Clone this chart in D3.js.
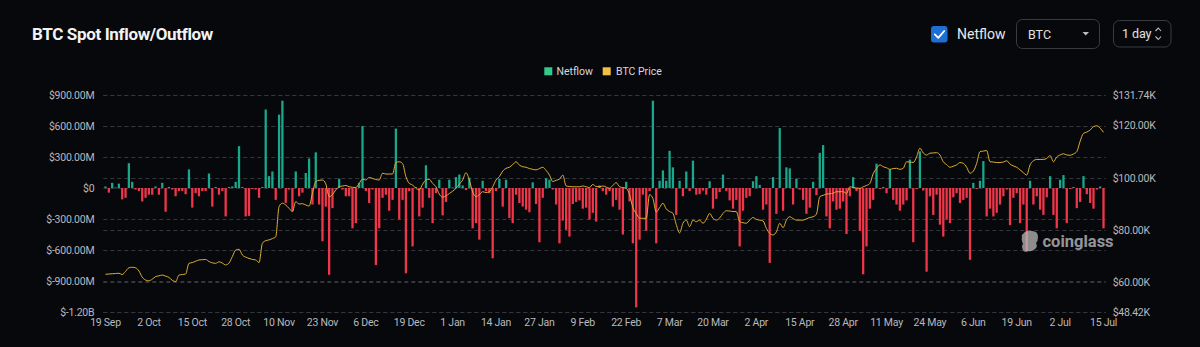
<!DOCTYPE html>
<html>
<head>
<meta charset="utf-8">
<script src="https://cdn.jsdelivr.net/npm/d3@7/dist/d3.min.js"></script>
<style>
  html, body { margin: 0; padding: 0; background: #07080c; }
  svg { display: block; }
  text { font-family: Roboto, "Noto Sans", sans-serif; }
</style>
</head>
<body>
<svg id="chart" width="1200" height="347"></svg>
<script>
// Daily BTC spot netflow (USD millions), 19 Sep 2024 – 15 Jul 2025
const startDate = "2024-09-19";
const dayCount = 300;

const netflow = [
   15,  -45,   50,    5,   42, -110,  -95,  240,   60,  -15,
  -30, -130,  -95,  -65,  -65,   15,  -65,   50, -230,   10,
  -15,  -80,  -30,  -30,  -60,  180, -190,  -50,  -80,  -30,
  -30,  140, -180,   10,  -65,  -30, -275,   10,   15,   60,
  405,   10, -275, -270,  -10,  -15,  -95,   10,  760,  115,
  160, -115,  710,  845, -145,  -15, -225,  160,  -80,  -45,
  145,  285, -160,  345, -160, -515, -180, -840, -195,  -10,
   90,  -15,  -80,  -80, -390, -340,   50,  600,  -30, -145,
  -15, -745, -390,  -95,  -65, -220, -115,  575, -305, -115,
 -825,  -30, -565,   10, -275, -190,  220,  -95, -340,  -50,
   80, -265, -135,   80,    5,  105,  130,   25,  -20,  100,
 -390, -340, -500,   70,  -30,  -50, -680,  -30,   90, -180,
   80, -290, -340,  -65, -145, -180, -210, -235,   55, -155,
 -525,  -95,   95,   80,  -15, -160, -535, -315, -405, -470,
 -155, -135, -120, -200, -190, -305, -240, -325,   25,  -30,
  -65,  -30, -180, -115, -210, -450,   60, -130, -535,-1155,
 -500,  -65, -415,  -30,  845, -535,   70,  170,   70,  360,
  200, -260,   70,  -80,  160,  -30,  265,  -65,  -60,  -25,
  -65,   65, -200, -105,  -40,  130,  -30, -120, -200, -115,
 -565, -220,  -95,  -80,   65,  115,   30, -210, -160, -725,
  105, -250,  580, -220,  200,  190, -160,   90,  -15, -115,
 -250, -190,   60,  -70,  340,  415, -275, -390, -130, -210,
 -200, -130, -445,  -80,  105,  -30, -415, -835, -565, -200,
 -115,  235,  -10,   10,  -50,  180, -115, -160, -220, -160,
 -120,  275, -525,  -10,  355,  -25, -810,  -80, -260,  -65,
 -355, -470, -305, -340,  -90,  -50, -145, -115,  -95, -695,
   50,  -10,   70,  260, -275, -200, -275, -240, -160,  -80,
  -15, -360,  -95,  -50, -340, -160, -615,   70, -160,  -80,
 -210, -260,  -90,  115, -260, -390,   80,  125, -340,  -10,
   10, -195, -135,  115,  -60, -145, -200,  -15,   15, -390
];

// Daily BTC price (USD thousands)
const btcPrice = [
  62.9, 63.0, 63.1, 63.2, 63.3, 62.8, 64.0, 65.4, 65.6, 65.4,
  64.2, 61.8, 60.7, 60.4, 61.0, 62.0, 62.3, 62.6, 62.2, 61.7,
  60.6, 60.1, 62.6, 62.8, 63.0, 67.1, 67.4, 67.9, 68.4, 68.5,
  68.6, 67.8, 67.3, 67.1, 67.7, 67.2, 66.5, 67.2, 69.7, 72.2,
  72.5, 70.3, 69.5, 69.0, 68.6, 68.4, 67.4, 74.8, 75.8, 76.1,
  76.6, 77.3, 88.9, 90.2, 89.5, 88.2, 87.0, 90.8, 89.9, 90.0,
  89.5, 89.1, 94.0, 98.5, 99.0, 99.1, 97.6, 92.7, 93.5, 95.3,
  96.5, 96.8, 97.0, 96.5, 96.3, 96.2, 97.8, 99.4, 99.1, 100.1,
  99.7, 99.3, 99.1, 101.7, 101.4, 101.4, 101.4, 105.8, 106.1, 105.4,
  100.4, 97.8, 97.2, 95.9, 95.3, 97.5, 99.1, 99.4, 97.8, 96.5,
  93.7, 92.5, 93.0, 93.9, 94.8, 95.9, 97.5, 99.1, 101.9, 99.1,
  94.5, 92.7, 93.5, 94.6, 94.3, 94.6, 96.5, 99.1, 100.4, 102.5,
  103.6, 104.0, 105.0, 106.1, 104.8, 104.2, 104.0, 103.5, 103.2, 103.0,
  103.5, 104.0, 102.8, 101.0, 98.5, 99.0, 99.4, 101.0, 96.8, 96.6,
  96.5, 96.5, 96.5, 96.8, 96.5, 96.2, 97.4, 96.6, 96.5, 96.8,
  96.4, 95.9, 97.0, 98.1, 96.5, 96.2, 95.9, 93.5, 88.5, 86.3,
  84.4, 84.4, 84.4, 93.5, 92.0, 86.8, 88.5, 90.2, 88.0, 87.0,
  86.3, 82.0, 78.8, 82.5, 83.7, 81.2, 83.7, 83.1, 83.7, 82.5,
  84.0, 86.3, 84.4, 83.7, 84.5, 86.3, 87.3, 87.2, 87.0, 87.0,
  83.1, 82.7, 82.5, 83.7, 84.7, 84.0, 83.7, 83.4, 80.5, 78.6,
  78.0, 79.2, 82.5, 80.8, 83.7, 85.0, 84.3, 83.7, 83.7, 83.7,
  84.2, 84.7, 85.0, 86.0, 92.7, 93.2, 93.7, 93.8, 94.0, 94.6,
  94.6, 94.6, 94.0, 96.5, 96.2, 96.0, 95.9, 96.5, 97.0, 97.8,
  101.5, 103.5, 104.9, 104.2, 103.8, 103.2, 103.5, 103.6, 103.2, 103.6,
  106.1, 106.0, 105.8, 108.0, 111.3, 109.5, 108.7, 109.4, 109.5, 109.6,
  108.7, 106.1, 105.0, 104.0, 104.4, 104.9, 105.8, 105.5, 104.0, 101.7,
  102.5, 105.5, 110.0, 110.2, 110.4, 106.1, 106.0, 105.8, 105.8, 106.0,
  106.5, 105.2, 104.5, 104.0, 103.0, 101.9, 101.0, 104.9, 106.5, 107.0,
  107.0, 107.0, 107.4, 108.5, 106.1, 108.0, 108.7, 109.2, 108.7, 108.6,
  109.1, 110.0, 114.0, 117.0, 117.5, 118.3, 119.6, 119.9, 119.0, 117.4
];

const xTickLabels = ["19 Sep","2 Oct","15 Oct","28 Oct","10 Nov","23 Nov","6 Dec","19 Dec",
  "1 Jan","14 Jan","27 Jan","9 Feb","22 Feb","7 Mar","20 Mar","2 Apr","15 Apr","28 Apr",
  "11 May","24 May","6 Jun","19 Jun","2 Jul","15 Jul"];
const flowTicks = [900, 600, 300, 0, -300, -600, -900, -1200];
const priceTicks = [131.74, 120, 100, 80, 60, 48.42];

// Calendar days of the range
const parse = d3.utcParse("%Y-%m-%d");
const days = d3.utcDay.range(parse(startDate), d3.utcDay.offset(parse(startDate), dayCount));
const fmtDay = d3.utcFormat("%-d %b");
const rows = days.map((d, i) => ({ key: fmtDay(d), flow: netflow[i], price: btcPrice[i] }));

const svg = d3.select("#chart");
const W = 1200, H = 347;
const plot = { left: 103.3, right: 1105.7, top: 95, bottom: 312 };

const x = d3.scaleBand().domain(rows.map(r => r.key)).range([plot.left, plot.right]).padding(0.32);
const yFlow = d3.scaleLinear().domain([-1200, 900]).range([plot.bottom, plot.top]);
const yPrice = d3.scaleLinear().domain([48.42, 131.74]).range([plot.bottom, plot.top]);

svg.append("rect").attr("width", W).attr("height", H).attr("fill", "#07080c");

// Header
svg.append("text").attr("x", 32).attr("y", 40).attr("fill", "#f2f2f2")
  .attr("font-size", 17).attr("font-weight", 700).attr("letter-spacing", -0.35)
  .attr("font-family", "Inter, Roboto, sans-serif").text("BTC Spot Inflow/Outflow");

const hdr = svg.append("g");
hdr.append("rect").attr("x", 931).attr("y", 26).attr("width", 16.5).attr("height", 16.5)
  .attr("rx", 3).attr("fill", "#1d6fd6");
hdr.append("path").attr("d", "M934.8,34.4 L938.3,37.9 L944.2,31").attr("fill", "none")
  .attr("stroke", "#fff").attr("stroke-width", 1.8).attr("stroke-linecap", "round").attr("stroke-linejoin", "round");
hdr.append("text").attr("x", 957).attr("y", 39).attr("fill", "#e8e8e8").attr("font-size", 14).text("Netflow");
hdr.append("rect").attr("x", 1016.5).attr("y", 19.5).attr("width", 83).attr("height", 29)
  .attr("rx", 6).attr("fill", "none").attr("stroke", "#3a3b40");
hdr.append("text").attr("x", 1028).attr("y", 38.5).attr("fill", "#e2e2e2").attr("font-size", 12.5).text("BTC");
hdr.append("path").attr("d", "M1082.5,32 L1089,32 L1085.75,35.5 Z").attr("fill", "#bdbdbd");
hdr.append("rect").attr("x", 1113.5).attr("y", 20.5).attr("width", 57.5).attr("height", 26.5)
  .attr("rx", 6).attr("fill", "none").attr("stroke", "#3a3b40");
hdr.append("text").attr("x", 1122).attr("y", 38).attr("fill", "#e2e2e2").attr("font-size", 12.5)
  .attr("letter-spacing", -0.1).text("1 day");
hdr.append("path").attr("d", "M1155.5,31 L1158.3,28 L1161,31 M1155.5,36.5 L1158.3,39.5 L1161,36.5")
  .attr("fill", "none").attr("stroke", "#bdbdbd").attr("stroke-width", 1.1);

// Legend
const legend = svg.append("g").attr("font-size", 10.5).attr("fill", "#d8d8d8");
legend.append("rect").attr("x", 544.3).attr("y", 67.3).attr("width", 8).attr("height", 8).attr("fill", "#34c98a");
legend.append("text").attr("x", 556.5).attr("y", 75).text("Netflow");
legend.append("rect").attr("x", 602.7).attr("y", 67.3).attr("width", 8).attr("height", 8).attr("fill", "#f0c043");
legend.append("text").attr("x", 616).attr("y", 75).text("BTC Price");

// Grid lines for both axes
const grid = svg.append("g");
const gridYs = flowTicks.map(yFlow).concat(priceTicks.map(yPrice));
grid.selectAll("line").data(gridYs).join("line")
  .attr("x1", plot.left).attr("x2", plot.right)
  .attr("y1", d => Math.round(d) + 0.5).attr("y2", d => Math.round(d) + 0.5)
  .attr("stroke", "#34363c").attr("stroke-width", 1).attr("stroke-dasharray", "4,3");

// Axes
const fmtFlow = v => v === 0 ? "$0" : (Math.abs(v) >= 1000 ? "$" + (v / 1000).toFixed(2) + "B" : "$" + v.toFixed(2) + "M");
const leftAxis = svg.append("g").attr("transform", `translate(${plot.left},0)`)
  .call(d3.axisLeft(yFlow).tickValues(flowTicks).tickFormat(fmtFlow).tickSize(0).tickPadding(9));
const rightAxis = svg.append("g").attr("transform", `translate(${plot.right},0)`)
  .call(d3.axisRight(yPrice).tickValues(priceTicks).tickFormat(v => "$" + v.toFixed(2) + "K").tickSize(0).tickPadding(7));
const bottomAxis = svg.append("g").attr("transform", `translate(0,${plot.bottom})`)
  .call(d3.axisBottom(x).tickValues(xTickLabels).tickSize(0).tickPadding(7));
[leftAxis, rightAxis, bottomAxis].forEach(g => {
  g.select(".domain").remove();
  g.selectAll("text").attr("fill", "#b9b9bd").attr("font-size", 10.5)
    .attr("font-family", "Roboto, sans-serif").attr("letter-spacing", -0.25);
});

// Netflow bars
svg.append("g").selectAll("rect").data(rows).join("rect")
  .attr("x", d => x(d.key))
  .attr("width", x.bandwidth())
  .attr("y", d => d.flow >= 0 ? yFlow(d.flow) : yFlow(0))
  .attr("height", d => Math.max(0.8, Math.abs(yFlow(d.flow) - yFlow(0))))
  .attr("fill", d => d.flow >= 0 ? "#18a88b" : "#f2364a");

// Watermark
const wm = svg.append("g").attr("opacity", 0.75);
wm.append("path")
  .attr("d", "M1023,234 q3,-4 9,-3 q6,0 6,6 q0,4 -2,6 q2,4 -1,6 q-3,3 -7,2 q-4,2 -5,-1 q-2,-4 0,-6 q-2,-4 -1,-7 q-1,-2 1,-3 Z")
  .attr("fill", "#b9b9b9");
wm.append("text").attr("x", 1042.5).attr("y", 247).attr("fill", "#c4c4c4")
  .attr("font-size", 16.5).attr("font-weight", 700).attr("font-family", "Roboto, sans-serif").text("coinglass");

// BTC price line
const line = d3.line()
  .x(d => x(d.key) + x.bandwidth() / 2)
  .y(d => yPrice(d.price))
  .curve(d3.curveMonotoneX);
svg.append("path").datum(rows).attr("d", line)
  .attr("fill", "none").attr("stroke", "#dcae32").attr("stroke-width", 1);
</script>
</body>
</html>
